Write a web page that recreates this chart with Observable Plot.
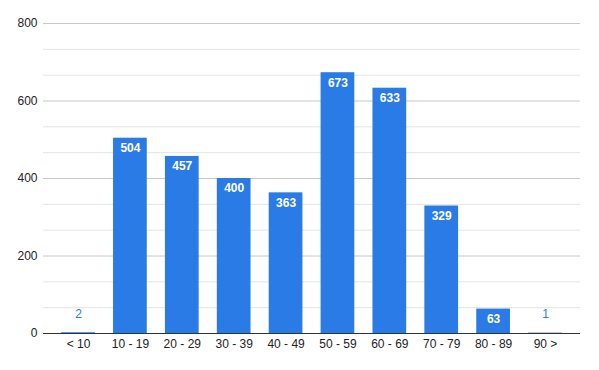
<!DOCTYPE html>
<html>
<head>
<meta charset="utf-8">
<script src="https://cdn.jsdelivr.net/npm/d3@7"></script>
<script src="https://cdn.jsdelivr.net/npm/@observablehq/plot@0.6"></script>
<style>
body { margin: 0; background: #fff; }
svg { font-family: "Liberation Sans", Arial, sans-serif; }
</style>
</head>
<body>
<div id="chart"></div>
<script>
const categories = ["< 10", "10 - 19", "20 - 29", "30 - 39", "40 - 49", "50 - 59", "60 - 69", "70 - 79", "80 - 89", "90 >"];
const values = [2, 504, 457, 400, 363, 673, 633, 329, 63, 1];
const majorTicks = [0, 200, 400, 600, 800];
const minorTicks = [200/3, 400/3, 800/3, 1000/3, 1400/3, 1600/3, 2000/3, 2200/3];

const data = categories.map((c, i) => ({ cat: c, value: values[i] }));
const inside = data.filter(d => d.value >= 40);
const outside = data.filter(d => d.value < 40);

const chart = Plot.plot({
  width: 599,
  height: 370,
  marginLeft: 43,
  marginRight: 19,
  marginTop: 23,
  marginBottom: 37,
  style: { fontSize: "12px", color: "#222", background: "#fff" },
  x: { domain: categories, padding: 0.35, round: false, label: null, tickSize: 0, tickPadding: 6 },
  y: { domain: [0, 800], ticks: majorTicks, label: null, tickSize: 0, tickPadding: 6 },
  marks: [
    Plot.ruleY(minorTicks, { stroke: "#e4e4e4", strokeWidth: 1 }),
    Plot.ruleY(majorTicks.filter(t => t > 0), { stroke: "#c8c8c8", strokeWidth: 1 }),
    Plot.barY(data, { x: "cat", y: "value", fill: "#2b7be6" }),
    Plot.ruleY([0], { stroke: "#333", strokeWidth: 1.2 }),
    Plot.text(inside, { x: "cat", y: "value", text: d => String(d.value), dy: 10, fill: "#fff", fontWeight: "bold", fontSize: 12 }),
    Plot.text(outside, { x: "cat", y: "value", text: d => String(d.value), dy: -19, fill: "#2b7be6", fontSize: 12 })
  ]
});
document.getElementById("chart").appendChild(chart);
</script>
</body>
</html>
